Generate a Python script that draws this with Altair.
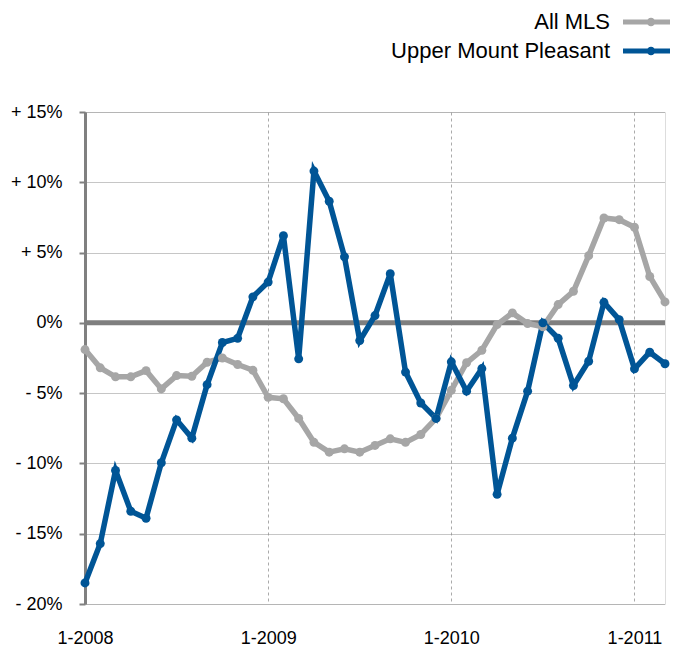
import altair as alt
import pandas as pd

# month index 0 = Jan 2008 ... 38 = Mar 2011
month_index = list(range(39))

all_mls = [-1.9, -3.2, -3.84, -3.84, -3.4, -4.7, -3.75, -3.8, -2.8, -2.5, -2.96, -3.37,
           -5.3, -5.4, -6.8, -8.5, -9.2, -8.96, -9.2, -8.72, -8.25, -8.5, -7.94, -6.8,
           -4.8, -2.84, -1.95, -0.12, 0.71, -0.05, -0.28, 1.3, 2.25, 4.78, 7.46, 7.34,
           6.8, 3.3, 1.49]

upper_mount_pleasant = [-18.5, -15.7, -10.5, -13.4, -13.9, -9.95, -6.9, -8.2, -4.4, -1.4, -1.1, 1.85,
                        2.9, 6.2, -2.56, 10.8, 8.65, 4.7, -1.26, 0.52, 3.5, -3.5, -5.7, -6.8,
                        -2.77, -4.86, -3.25, -12.2, -8.2, -4.86, 0.0, -1.1, -4.46, -2.73, 1.46, 0.23,
                        -3.27, -2.09, -2.91]

series_names = ["All MLS", "Upper Mount Pleasant"]
series_colors = ["#a6a6a6", "#005596"]

y_ticks = [-20, -15, -10, -5, 0, 5, 10, 15]
x_ticks = [0, 12, 24, 36]
x_tick_labels = ["1-2008", "1-2009", "1-2010", "1-2011"]

rows = []
for name, vals in zip(series_names, [all_mls, upper_mount_pleasant]):
    for m, v in zip(month_index, vals):
        rows.append({"month": m, "series": name, "value": v})
df = pd.DataFrame(rows)
zero_df = pd.DataFrame({"value": [0]})

font = "Liberation Sans"
label_list = "[" + ",".join("'%s'" % s for s in x_tick_labels) + "]"

x_enc = alt.X(
    "month:Q",
    scale=alt.Scale(domain=[0, 38], nice=False, zero=False),
    axis=alt.Axis(
        values=x_ticks,
        labelExpr=label_list + "[round(datum.value / 12)]",
        labelFlush=False,
        grid=True, gridColor="#aaaaaa", gridDash=[3, 3], gridWidth=1,
        domain=False, ticks=False, labelPadding=25,
        labelFont=font, labelFontSize=18, labelColor="#000000",
        title=None,
    ),
)
y_scale = alt.Scale(domain=[-20, 15], nice=False, zero=False)
y_enc = alt.Y(
    "value:Q",
    scale=y_scale,
    axis=alt.Axis(
        values=y_ticks,
        labelExpr="datum.value > 0 ? '+ ' + datum.value + '%' : (datum.value < 0 ? '- ' + abs(datum.value) + '%' : '0%')",
        grid=True, gridColor="#8c8c8c", gridDash=[1, 1], gridWidth=1,
        domain=True, domainColor="#808080", domainWidth=3,
        ticks=True, tickColor="#808080", tickSize=6, tickWidth=2,
        labelPadding=17, labelFont=font, labelFontSize=18, labelColor="#000000",
        title=None,
    ),
)

# stroked legend glyph: long line with a small dot in the middle
# (unit coords scaled by sqrt(symbolSize)/2 = 14.5 px)
legend_symbol = ("M-1.93,0L1.93,0"
                 "M-0.12,0a0.12,0.12 0 1,1 0.24,0a0.12,0.12 0 1,1 -0.24,0")
color_scale = alt.Scale(domain=series_names, range=series_colors)

zero_rule = alt.Chart(zero_df).mark_rule(color="#7f7f7f", strokeWidth=5).encode(
    y=alt.Y("value:Q", scale=y_scale)
)
lines = alt.Chart(df).mark_line(strokeWidth=5.5).encode(
    x=x_enc, y=y_enc,
    color=alt.Color(
        "series:N", scale=color_scale,
        legend=alt.Legend(
            orient="none", legendX=549, legendY=-107, title=None,
            symbolType=legend_symbol, symbolSize=841, symbolStrokeWidth=5,
            symbolOpacity=1,
            rowPadding=0, padding=0,
            labelAlign="right", labelOffset={"expr": "-58"}, labelBaseline="middle",
            labelFont=font, labelFontSize=22, labelColor="#000000", labelLimit=400,
        ),
    ),
    order="month:Q",
)
points = alt.Chart(df).mark_circle(size=80, opacity=1).encode(
    x="month:Q", y="value:Q",
    color=alt.Color("series:N", scale=color_scale, legend=None),
)

chart = alt.layer(zero_rule, lines, points).properties(
    width=580, height=492,
    autosize=alt.AutoSizeParams(type="none"),
    padding={"left": 77, "top": 104, "right": 5, "bottom": 42},
).configure_view(
    stroke="#8c8c8c", strokeDash=[1, 1], strokeWidth=1
).configure(background="#ffffff")

chart.save("out.html", embed_options={"renderer": "svg", "actions": False})
